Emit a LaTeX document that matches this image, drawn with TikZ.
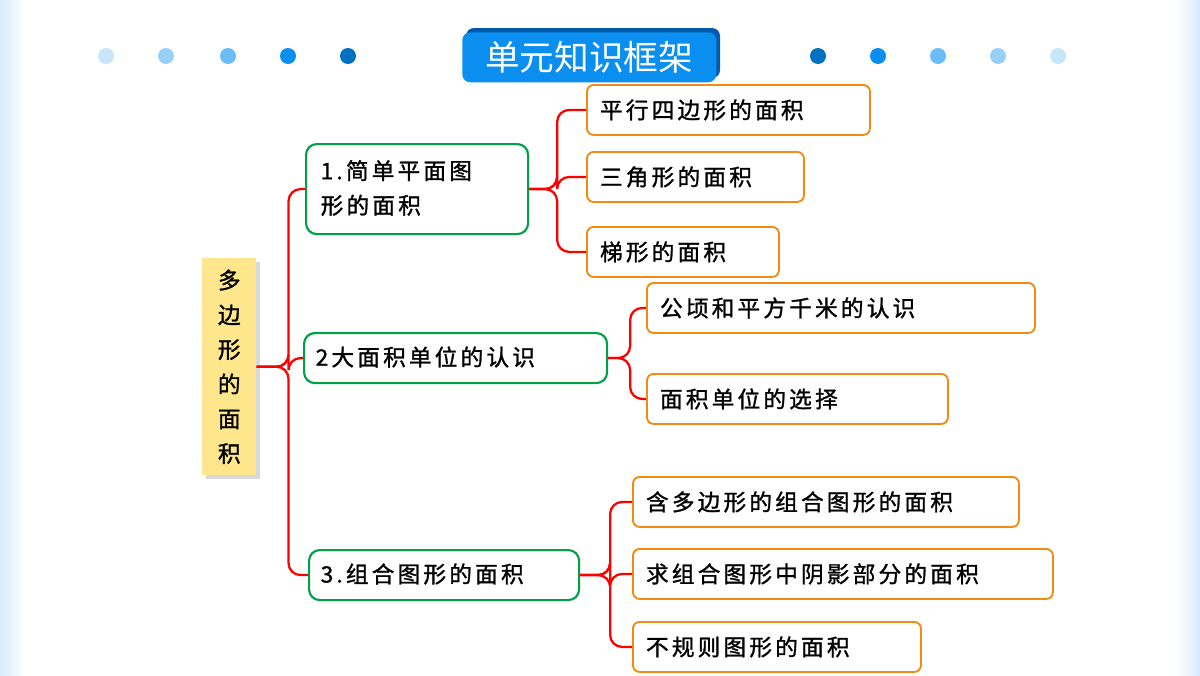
\documentclass[tikz,border=0pt]{standalone}
\usepackage{fontspec}
\setmainfont{Noto Sans CJK SC}[LetterSpace=14,FakeBold=1.2]
\newfontfamily\titlef{Noto Sans CJK SC}
\definecolor{tb}{RGB}{10,143,240}
\definecolor{tbd}{RGB}{0,90,170}
\definecolor{d1}{RGB}{200,230,250}
\definecolor{d2}{RGB}{154,208,248}
\definecolor{d3}{RGB}{108,188,248}
\definecolor{d4}{RGB}{10,143,240}
\definecolor{d5}{RGB}{0,112,192}
\definecolor{edge}{RGB}{215,235,252}
\definecolor{gr}{RGB}{0,160,70}
\definecolor{og}{RGB}{240,140,20}
\definecolor{yl}{RGB}{253,230,140}
\begin{document}
\begin{tikzpicture}[x=0.75pt,y=-0.75pt,
  grn/.style={draw=gr,line width=1.6pt,rounded corners=8pt,fill=white,anchor=north west,inner sep=0pt},
  org/.style={draw=og,line width=1.4pt,rounded corners=5pt,fill=white,anchor=north west,inner sep=0pt},
  lbl/.style={font=\fontsize{17}{22}\selectfont,anchor=west},
  br/.style={draw=red,line width=1.7pt,rounded corners=9pt}]
\useasboundingbox (0,0) rectangle (1200,675);
\fill[white] (0,0) rectangle (1200,675);
\shade[left color=edge, right color=white] (0,0) rectangle (24,675);
\shade[right color=edge, left color=white] (1176,0) rectangle (1200,675);
% dots
\foreach \x/\c in {106/d1,166/d2,228/d3,288/d4,348/d5}
  \fill[\c] (\x,56) circle (8);
\foreach \x/\c in {818/d5,878/d4,938/d3,998/d2,1058/d1}
  \fill[\c] (\x,56) circle (8);
% title
\fill[tbd,rounded corners=6pt] (466,28) rectangle (720,78);
\node[fill=tb,rounded corners=6pt,inner sep=0pt,anchor=north west,minimum height=37.5pt,text width=190.5pt,align=center,text=white,font=\titlef\fontsize{26}{30}\selectfont] (title) at (462,32) {单元知识框架};
% root
\fill[gray!30] (206,262) rectangle (260,479);
\node[fill=yl,anchor=north west,minimum width=40.5pt,minimum height=162.75pt,inner sep=0pt,align=center,font=\fontsize{17}{26}\selectfont] (root) at (202,258) {多\\边\\形\\的\\面\\积};
% green
\node[grn,minimum width=166.5pt,minimum height=67.5pt] (g1) at (305,143) {};
\node[lbl,align=left,font=\fontsize{17}{26}\selectfont] at (316,188) {1.简单平面图\\形的面积};
\node[grn,minimum width=227.25pt,minimum height=37.5pt] (g2) at (303,332) {};
\node[lbl] at (311,357) {2大面积单位的认识};
\node[grn,minimum width=202.5pt,minimum height=37.5pt] (g3) at (308,549) {};
\node[lbl] at (316,574) {3.组合图形的面积};
% orange
\newcommand{\ob}[5]{\node[org,minimum width=#3pt,minimum height=37.5pt] (#1) at (#2) {};
  \node[lbl] at ([xshift=#4]#1.west) {#5};}
\ob{a1}{586,84}{212.25}{7pt}{平行四边形的面积}
\ob{a2}{586,151}{162.75}{7pt}{三角形的面积}
\ob{a3}{586,226}{144}{7pt}{梯形的面积}
\ob{b1}{646,282}{291}{7pt}{公顷和平方千米的认识}
\ob{b2}{646,373}{225.75}{7pt}{面积单位的选择}
\ob{c1}{632,476}{289.5}{7pt}{含多边形的组合图形的面积}
\ob{c2}{632,548}{315}{7pt}{求组合图形中阴影部分的面积}
\ob{c3}{632,621}{216}{7pt}{不规则图形的面积}
% brackets
\foreach \c in {g1,g2,g3} \draw[br] (root.east) -- ++(32,0) |- (\c.west);
\foreach \c in {a1,a2,a3} \draw[br] (g1.east) -- ++(28,0) |- (\c.west);
\foreach \c in {b1,b2} \draw[br] (g2.east) -- ++(22,0) |- (\c.west);
\foreach \c in {c1,c2,c3} \draw[br] (g3.east) -- ++(30,0) |- (\c.west);
\end{tikzpicture}
\end{document}
